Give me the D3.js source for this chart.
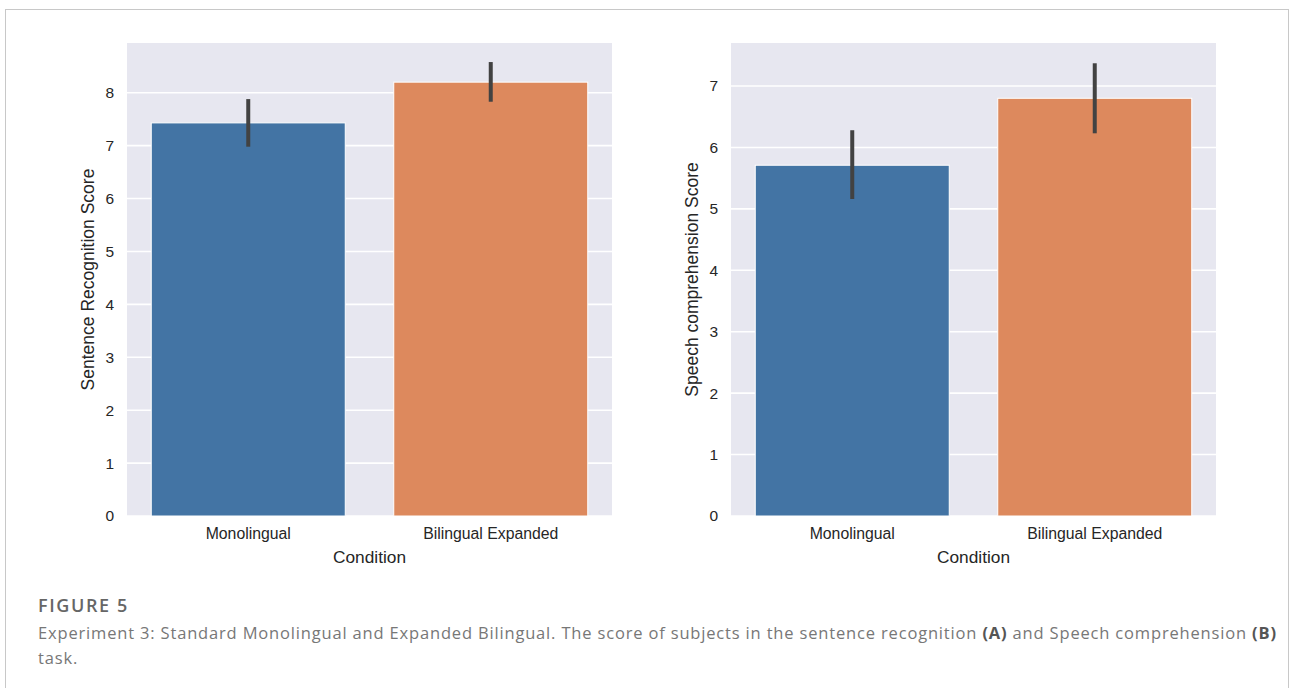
<!DOCTYPE html>
<html><head><meta charset="utf-8">
<script src="https://cdn.jsdelivr.net/npm/d3@7"></script>
<style>body{margin:0;background:#fff}svg{display:block}</style>
</head><body>
<svg id="c" width="1290" height="688"></svg>
<script>
const categories = ["Monolingual", "Bilingual Expanded"];
const colors = ["#4374a4", "#dd895d"];
// Panel A: Sentence Recognition Score
const meansA = [7.43, 8.20];
const ciLowA = [6.98, 7.83];
const ciHighA = [7.88, 8.58];
const ticksA = [0, 1, 2, 3, 4, 5, 6, 7, 8];
// Panel B: Speech comprehension Score
const meansB = [5.71, 6.80];
const ciLowB = [5.16, 6.23];
const ciHighB = [6.28, 7.37];
const ticksB = [0, 1, 2, 3, 4, 5, 6, 7];

const svg = d3.select("#c");
svg.append("rect").attr("x", 5.5).attr("y", 9.5).attr("width", 1283).attr("height", 700)
  .attr("fill", "none").attr("stroke", "#c8c8c8").attr("stroke-width", 1);

const AF = "Liberation Sans, Arial, sans-serif";
function panel(x0, yLabel, means, lo, hi, ticks, ymax) {
  const left = x0, right = x0 + 485, top = 43, bottom = 516;
  const x = d3.scaleBand().domain(categories).range([left, right]).paddingInner(0.2).paddingOuter(0.1);
  const y = d3.scaleLinear().domain([0, ymax]).range([bottom, top]);
  const g = svg.append("g");
  g.append("rect").attr("x", left).attr("y", top).attr("width", right - left).attr("height", bottom - top).attr("fill", "#e7e7f0");
  g.selectAll("line.grid").data(ticks).join("line").attr("class", "grid")
    .attr("x1", left).attr("x2", right).attr("y1", d => y(d)).attr("y2", d => y(d))
    .attr("stroke", "#fff").attr("stroke-width", 1.6);
  g.selectAll("rect.bar").data(categories).join("rect").attr("class", "bar")
    .attr("x", d => x(d)).attr("width", x.bandwidth())
    .attr("y", (d, i) => y(means[i])).attr("height", (d, i) => y(0) - y(means[i]))
    .attr("fill", (d, i) => colors[i]).attr("stroke", "#fff").attr("stroke-width", 1);
  g.selectAll("line.err").data(categories).join("line").attr("class", "err")
    .attr("x1", d => x(d) + x.bandwidth() / 2).attr("x2", d => x(d) + x.bandwidth() / 2)
    .attr("y1", (d, i) => y(lo[i])).attr("y2", (d, i) => y(hi[i]))
    .attr("stroke", "#424242").attr("stroke-width", 4);
  const ya = d3.axisLeft(y).tickValues(ticks).tickSize(0).tickPadding(13);
  const ay = g.append("g").attr("transform", `translate(${left},0)`).call(ya);
  ay.select(".domain").remove();
  ay.selectAll("text").attr("font-family", AF).attr("font-size", 15.5).attr("fill", "#262626");
  const xa = d3.axisBottom(x).tickSize(0).tickPadding(12);
  const ax = g.append("g").attr("transform", `translate(0,${bottom})`).call(xa);
  ax.select(".domain").remove();
  ax.selectAll("text").attr("font-family", AF).attr("font-size", 15.8).attr("fill", "#262626");
  g.append("text").attr("x", (left + right) / 2).attr("y", 563).attr("text-anchor", "middle")
    .attr("font-family", AF).attr("font-size", 17.3).attr("fill", "#262626").text("Condition");
  g.append("text").attr("transform", `translate(${left - 33},${(top + bottom) / 2}) rotate(-90)`)
    .attr("text-anchor", "middle").attr("font-family", AF)
    .attr("font-size", 17.5).attr("fill", "#262626").text(yLabel);
}
panel(127, "Sentence Recognition Score", meansA, ciLowA, ciHighA, ticksA, 8.94);
panel(731, "Speech comprehension Score", meansB, ciLowB, ciHighB, ticksB, 7.70);

const cap = svg.append("g").attr("font-family", "Open Sans, sans-serif");
cap.append("text").attr("x", 38).attr("y", 612).attr("font-size", 18).attr("fill", "#666")
  .attr("letter-spacing", 1.6).attr("font-weight", 600).text("FIGURE 5");
const t1 = cap.append("text").attr("x", 38).attr("y", 639).attr("font-size", 16.5).attr("fill", "#777")
  .attr("letter-spacing", 0.83);
t1.append("tspan").text("Experiment 3: Standard Monolingual and Expanded Bilingual. The score of subjects in the sentence recognition ");
t1.append("tspan").attr("font-weight", "bold").attr("fill", "#555").text("(A)");
t1.append("tspan").text(" and Speech comprehension ");
t1.append("tspan").attr("font-weight", "bold").attr("fill", "#555").text("(B)");
cap.append("text").attr("x", 38).attr("y", 664).attr("font-size", 16.5).attr("fill", "#777")
  .attr("letter-spacing", 0.83).text("task.");
</script>
</body></html>
